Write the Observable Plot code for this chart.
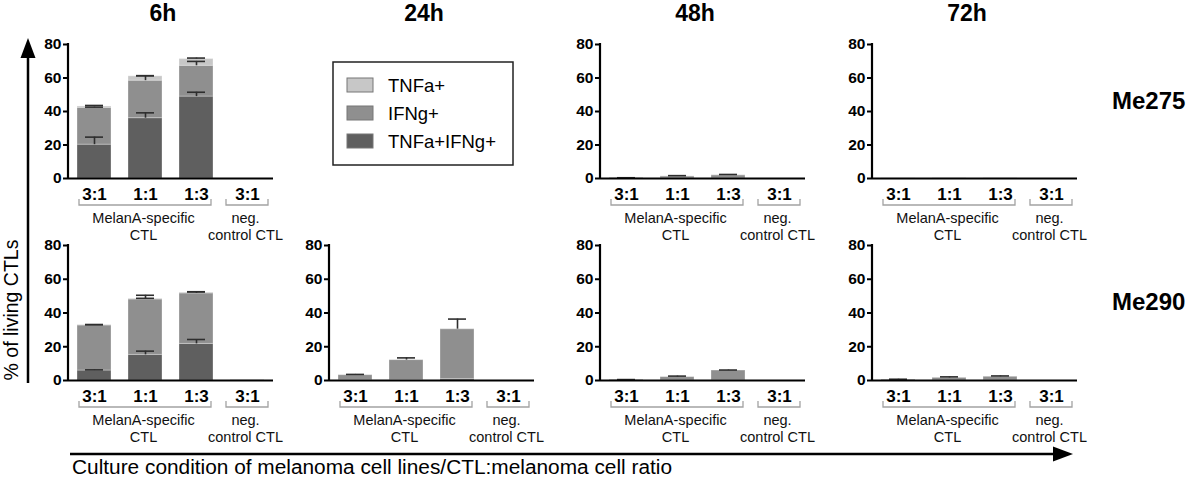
<!DOCTYPE html>
<html><head><meta charset="utf-8">
<script src="https://cdn.jsdelivr.net/npm/d3@7"></script>
<script src="https://cdn.jsdelivr.net/npm/@observablehq/plot@0.6"></script>
<style>
body{margin:0;background:#fff;font-family:"Liberation Sans",Arial,Helvetica,sans-serif;}
#root{position:relative;width:1192px;height:480px;overflow:hidden;background:#fff;}
#root > svg{position:absolute;}
</style></head><body><div id="root"></div>
<script>
// ---------- data ----------
const times = ["6h", "24h", "48h", "72h"];
const cellLines = ["Me275", "Me290"];
const catKeys = ["m31", "m11", "m13", "n31"];
const catLabels = ["3:1", "1:1", "1:3", "3:1"];
const groupLabels = ["MelanA-specific\nCTL", "neg.\ncontrol CTL"];
const seriesNames = ["TNFa+IFNg+", "IFNg+", "TNFa+"];   // stack order, bottom to top
const seriesColors = ["#5f5f5f", "#8f8f8f", "#c7c7c7"];
const legendOrder = ["TNFa+", "IFNg+", "TNFa+IFNg+"];
const yTicks = [0, 20, 40, 60, 80];
const xLabel = "Culture condition of melanoma cell lines/CTL:melanoma cell ratio";
const yLabel = "% of living CTLs";

// segment heights per category (3:1, 1:1, 1:3, neg 3:1) and their error bars
const me275_6h_dbl = [20.2, 36.0, 48.9, 0];
const me275_6h_dbl_err = [4.5, 3.2, 2.6, 0];
const me275_6h_ifng = [22.0, 22.4, 18.4, 0];
const me275_6h_ifng_err = [0.4, 3.0, 2.6, 0];
const me275_6h_tnfa = [0.8, 2.6, 4.0, 0];
const me275_6h_tnfa_err = [0.6, 0.3, 0.6, 0];

const me275_48h_dbl = [0.05, 0.1, 0.1, 0];
const me275_48h_dbl_err = [0, 0, 0, 0];
const me275_48h_ifng = [0.3, 1.1, 1.8, 0];
const me275_48h_ifng_err = [0.1, 0.5, 0.5, 0];
const me275_48h_tnfa = [0, 0.1, 0.1, 0];
const me275_48h_tnfa_err = [0, 0, 0, 0];

const me275_72h_dbl = [0, 0, 0, 0];
const me275_72h_dbl_err = [0, 0, 0, 0];
const me275_72h_ifng = [0.05, 0.1, 0.1, 0];
const me275_72h_ifng_err = [0, 0, 0, 0];
const me275_72h_tnfa = [0, 0, 0, 0];
const me275_72h_tnfa_err = [0, 0, 0, 0];

const me290_6h_dbl = [5.9, 15.2, 21.7, 0];
const me290_6h_dbl_err = [0.4, 2.2, 2.6, 0];
const me290_6h_ifng = [26.7, 32.8, 29.9, 0.2];
const me290_6h_ifng_err = [0.5, 2.5, 1.0, 0];
const me290_6h_tnfa = [0.3, 0.4, 0.5, 0];
const me290_6h_tnfa_err = [0.2, 0.3, 0.4, 0];

const me290_24h_dbl = [0.2, 0.3, 0.8, 0];
const me290_24h_dbl_err = [0, 0, 0, 0];
const me290_24h_ifng = [3.0, 11.8, 29.6, 0];
const me290_24h_ifng_err = [0.4, 1.3, 6.0, 0];
const me290_24h_tnfa = [0.1, 0.1, 0.1, 0];
const me290_24h_tnfa_err = [0, 0, 0, 0];

const me290_48h_dbl = [0.05, 0.1, 0.1, 0];
const me290_48h_dbl_err = [0, 0, 0, 0];
const me290_48h_ifng = [0.4, 1.9, 5.8, 0];
const me290_48h_ifng_err = [0.1, 0.6, 0.3, 0];
const me290_48h_tnfa = [0, 0, 0, 0];
const me290_48h_tnfa_err = [0, 0, 0, 0];

const me290_72h_dbl = [0.05, 0.05, 0.1, 0];
const me290_72h_dbl_err = [0, 0, 0, 0];
const me290_72h_ifng = [0.5, 1.5, 2.1, 0];
const me290_72h_ifng_err = [0.2, 0.6, 0.5, 0];
const me290_72h_tnfa = [0, 0, 0, 0];
const me290_72h_tnfa_err = [0, 0, 0, 0];

const panels = [
  {line: "Me275", time: "6h", seg: [[me275_6h_dbl, me275_6h_dbl_err], [me275_6h_ifng, me275_6h_ifng_err], [me275_6h_tnfa, me275_6h_tnfa_err]]},
  {line: "Me275", time: "48h", seg: [[me275_48h_dbl, me275_48h_dbl_err], [me275_48h_ifng, me275_48h_ifng_err], [me275_48h_tnfa, me275_48h_tnfa_err]]},
  {line: "Me275", time: "72h", seg: [[me275_72h_dbl, me275_72h_dbl_err], [me275_72h_ifng, me275_72h_ifng_err], [me275_72h_tnfa, me275_72h_tnfa_err]]},
  {line: "Me290", time: "6h", seg: [[me290_6h_dbl, me290_6h_dbl_err], [me290_6h_ifng, me290_6h_ifng_err], [me290_6h_tnfa, me290_6h_tnfa_err]]},
  {line: "Me290", time: "24h", seg: [[me290_24h_dbl, me290_24h_dbl_err], [me290_24h_ifng, me290_24h_ifng_err], [me290_24h_tnfa, me290_24h_tnfa_err]]},
  {line: "Me290", time: "48h", seg: [[me290_48h_dbl, me290_48h_dbl_err], [me290_48h_ifng, me290_48h_ifng_err], [me290_48h_tnfa, me290_48h_tnfa_err]]},
  {line: "Me290", time: "72h", seg: [[me290_72h_dbl, me290_72h_dbl_err], [me290_72h_ifng, me290_72h_ifng_err], [me290_72h_tnfa, me290_72h_tnfa_err]]}
];

// ---------- layout ----------
const FONT = '"Liberation Sans", Arial, Helvetica, sans-serif';
const colAxisX = [68, 329, 600, 872];
const rowTop80 = [44, 245];
const rowInnerH = [134, 135];
const ML = 40, MR = 34, MT = 12, MB = 66, INNER_W = 205;
const root = document.getElementById("root");

function buildRows(p) {
  const rows = [];
  catKeys.forEach((c, i) => {
    let base = 0;
    p.seg.forEach(([vals, errs], s) => {
      const v = vals[i];
      rows.push({cat: c, series: seriesNames[s], value: v, top: base + v, err: errs[i]});
      base += v;
    });
  });
  return rows;
}

function decorations(index, scales, values, dim) {
  const x = scales.x, y = scales.y;
  const bw = typeof x.bandwidth === "function" ? x.bandwidth() : 34;
  const y0 = y(0);
  const g = d3.create("svg:g");
  // y axis line
  g.append("line")
    .attr("x1", dim.marginLeft).attr("x2", dim.marginLeft)
    .attr("y1", y(80) - 1).attr("y2", y0 + 1)
    .attr("stroke", "#000").attr("stroke-width", 2.2);
  // group brackets
  const spans = [[x("m31") + 2, x("m13") + bw - 2], [x("n31") - 4, x("n31") + bw + 4]];
  for (const [a, b] of spans) {
    g.append("path")
      .attr("d", `M${a},${y0 + 21}V${y0 + 27}H${b}V${y0 + 21}`)
      .attr("fill", "none").attr("stroke", "#a3a3a3").attr("stroke-width", 1.3);
  }
  return g.node();
}

function drawPanel(p) {
  const col = times.indexOf(p.time), row = cellLines.indexOf(p.line);
  const rows = buildRows(p);
  const errRows = rows.filter(d => d.err > 0);
  const chart = Plot.plot({
    width: ML + INNER_W + MR,
    height: MT + rowInnerH[row] + MB,
    marginLeft: ML, marginRight: MR, marginTop: MT, marginBottom: MB,
    style: {background: "transparent", fontFamily: FONT, color: "#000", overflow: "visible"},
    x: {domain: catKeys, paddingInner: 0.33, paddingOuter: 0.15, axis: null},
    y: {domain: [0, 80], axis: null},
    color: {domain: seriesNames, range: seriesColors},
    marks: [
      Plot.barY(rows.filter(d => d.value > 0), {
        x: "cat", y: "value", fill: "series", order: seriesNames,
        stroke: "#ffffff", strokeOpacity: 0.3, strokeWidth: 1
      }),
      Plot.ruleX(errRows, {x: "cat", y1: "top", y2: d => d.top + d.err, stroke: "#2e2e2e", strokeWidth: 1.6}),
      Plot.tickY(errRows, {x: "cat", y: d => d.top + d.err, stroke: "#2e2e2e", strokeWidth: 1.6, insetLeft: 8, insetRight: 8}),
      Plot.ruleY([0], {stroke: "#000", strokeWidth: 2.2}),
      Plot.axisY({ticks: yTicks, tickSize: 5, tickPadding: 2, fontSize: 15.5, fontWeight: "bold", label: null, strokeWidth: 2}),
      Plot.axisX({
        tickFormat: k => catLabels[catKeys.indexOf(k)],
        tickSize: 0, tickPadding: 9, fontSize: 17, fontWeight: "bold", label: null
      }),
      Plot.text([{k: "m11", t: groupLabels[0]}, {k: "n31", t: groupLabels[1]}], {
        x: "k", text: "t", frameAnchor: "bottom", lineAnchor: "top", dy: 32, dx: -2,
        fontSize: 14.5, lineHeight: 1.17, fill: "#111"
      }),
      decorations
    ]
  });
  chart.style.left = (colAxisX[col] - ML) + "px";
  chart.style.top = (rowTop80[row] - MT) + "px";
  root.appendChild(chart);
}

panels.forEach(drawPanel);

// ---------- overlay: titles, row labels, legend, arrows ----------
const ov = d3.select(root).append("svg")
  .attr("width", 1192).attr("height", 480)
  .style("left", "0px").style("top", "0px")
  .style("font-family", FONT);

times.forEach((t, i) => {
  ov.append("text").attr("x", colAxisX[i] + 95).attr("y", 21)
    .attr("text-anchor", "middle").attr("font-size", 23).attr("font-weight", "bold").text(t);
});
const rowLabelY = [109, 310];
cellLines.forEach((l, i) => {
  ov.append("text").attr("x", 1112).attr("y", rowLabelY[i])
    .attr("font-size", 24).attr("font-weight", "bold").text(l);
});

// legend (in place of the missing 24h Me275 panel)
const lg = ov.append("g");
lg.append("rect").attr("x", 333).attr("y", 62).attr("width", 180).attr("height", 103)
  .attr("fill", "none").attr("stroke", "#222").attr("stroke-width", 1.5);
legendOrder.forEach((name, i) => {
  const cy = 85 + i * 28;
  lg.append("rect").attr("x", 347).attr("y", cy - 7).attr("width", 26).attr("height", 14)
    .attr("fill", seriesColors[seriesNames.indexOf(name)]).attr("stroke", "#777").attr("stroke-width", 1);
  lg.append("text").attr("x", 388).attr("y", cy).attr("dy", "0.36em")
    .attr("font-size", 18.5).text(name);
});

// y arrow + label
ov.append("line").attr("x1", 28).attr("x2", 28).attr("y1", 383).attr("y2", 52)
  .attr("stroke", "#000").attr("stroke-width", 2.5);
ov.append("path").attr("d", "M28,38L35.5,58L20.5,58Z").attr("fill", "#000");
ov.append("text").attr("transform", "translate(18,310) rotate(-90)")
  .attr("text-anchor", "middle").attr("font-size", 19.5).text(yLabel);

// x arrow + label
ov.append("line").attr("x1", 70).attr("x2", 1058).attr("y1", 454).attr("y2", 454)
  .attr("stroke", "#000").attr("stroke-width", 2.5);
ov.append("path").attr("d", "M1073,454L1053,446.5L1053,461.5Z").attr("fill", "#000");
ov.append("text").attr("x", 72).attr("y", 474).attr("font-size", 19.5)
  .attr("textLength", 600).attr("lengthAdjust", "spacingAndGlyphs").text(xLabel);
</script></body></html>
